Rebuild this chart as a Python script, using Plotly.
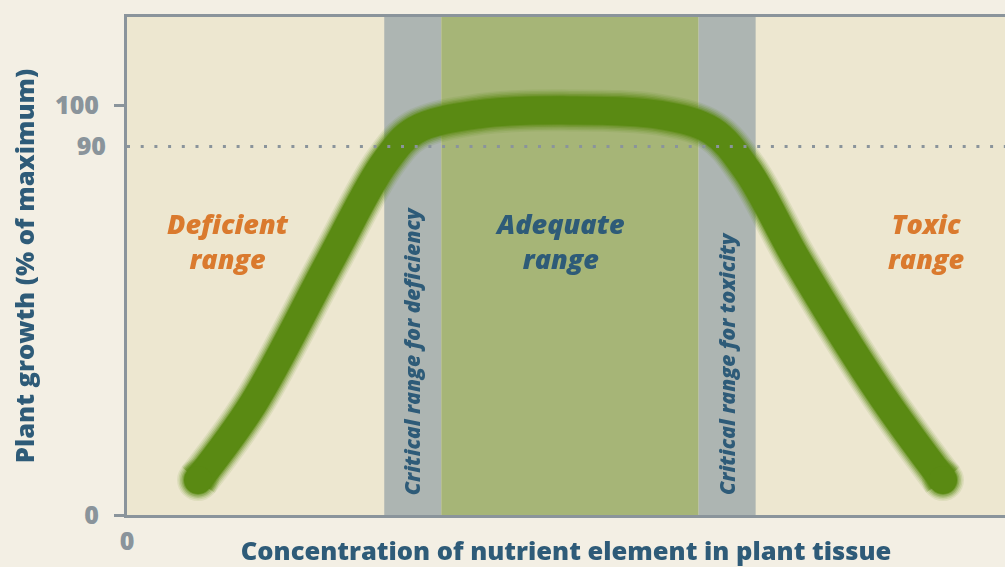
import plotly.graph_objects as go

# ---- data ----
conc = [8.09, 14.35, 23.12, 29.38, 32.8, 40.21, 50.46, 60.71, 66.63, 70.62, 76.31, 85.76, 92.94]
growth = [8.55, 27.11, 62.03, 86.2, 93.9, 97.9, 98.8, 97.7, 93.8, 84.2, 62.3, 29.8, 8.55]

critical_def = [29.3, 35.8]
adequate = [35.8, 65.1]
critical_tox = [65.1, 71.6]
threshold = 90

y_ticks = [0, 100]
y_tick_text = ["0", "100"]
y2_ticks = [90]
y2_tick_text = ["90"]
x_ticks = [0]
x_tick_text = ["0"]

range_labels = ["Deficient<br>range", "Adequate<br>range", "Toxic<br>range"]
range_label_x = [11.5, 49.3, 91.0]
range_label_y = 66.8

# ---- style ----
PAPER = "#f3efe4"
PLOT = "#ede7d0"
AXIS = "#8a949b"
GRAYBAND = "#adb5b2"
GREENBAND = "#a6b577"
CURVE = "#5a8a13"
ORANGE = "#da7a2e"
BLUE = "#2e5b78"
FONT = "Open Sans"
W = 800

fig = go.Figure()

# blurred thick curve: soft layers then core
for w, op in [(42, 0.10), (39, 0.15), (36, 0.22), (33, 0.32), (30, 0.5), (28, 1.0)]:
    fig.add_trace(go.Scatter(
        x=conc, y=growth, mode="lines",
        line=dict(color=CURVE, width=w, shape="spline", smoothing=1.0),
        opacity=op, hoverinfo="skip", showlegend=False,
    ))
    fig.add_trace(go.Scatter(
        x=[conc[0], conc[-1]], y=[growth[0], growth[-1]], mode="markers",
        marker=dict(size=w, color=CURVE, line=dict(width=0)),
        opacity=op, hoverinfo="skip", showlegend=False,
    ))

# bands
for band, col in [(critical_def, GRAYBAND), (adequate, GREENBAND), (critical_tox, GRAYBAND)]:
    fig.add_shape(type="rect", xref="x", yref="paper", x0=band[0], x1=band[1], y0=0, y1=1,
                  fillcolor=col, line=dict(width=0), layer="below")

# 90% dotted threshold
fig.add_shape(type="line", xref="paper", yref="y", x0=0, x1=1, y0=threshold, y1=threshold,
              line=dict(color=AXIS, width=3, dash="3px,10.7px"), layer="above")

# range labels
for txt, xv, col in zip(range_labels, range_label_x, [ORANGE, BLUE, ORANGE]):
    fig.add_annotation(x=xv, y=range_label_y, xref="x", yref="y", text=txt, showarrow=False,
                       font=dict(family=FONT, size=27, color=col, weight=W, style="italic"),
                       xanchor="center", yanchor="middle")

# vertical critical labels
for txt, band in [("Critical range for deficiency", critical_def), ("Critical range for toxicity", critical_tox)]:
    fig.add_annotation(x=(band[0] + band[1]) / 2, y=4.3, xref="x", yref="y", text=txt, showarrow=False,
                       textangle=-90, xanchor="center", yanchor="bottom",
                       font=dict(family=FONT, size=21, color=BLUE, weight=W, style="italic"))

fig.update_layout(
    width=1005, height=567,
    margin=dict(l=127, r=0, t=17, b=52),
    paper_bgcolor=PAPER, plot_bgcolor=PLOT,
    showlegend=False,
    xaxis=dict(range=[0, 100], tickvals=x_ticks, ticktext=x_tick_text, ticks="", automargin=False,
               showgrid=False, zeroline=False, showline=True, linecolor=AXIS, linewidth=3, mirror=True,
               tickfont=dict(family=FONT, size=25, color=AXIS, weight=W), ticklabelstandoff=2,
               title=dict(text="Concentration of nutrient element in plant tissue", standoff=17,
                          font=dict(family=FONT, size=25.5, color=BLUE, weight=W))),
    yaxis=dict(range=[0, 121.6], tickvals=y_ticks, ticktext=y_tick_text, ticks="outside",
               ticklen=10, tickwidth=3, tickcolor=AXIS, automargin=False,
               showgrid=False, zeroline=False, showline=True, linecolor=AXIS, linewidth=3,
               tickfont=dict(family=FONT, size=25, color=AXIS, weight=W), ticklabelstandoff=10,
               title=dict(text="Plant growth (% of maximum)", standoff=14,
                          font=dict(family=FONT, size=25.5, color=BLUE, weight=W))),
    yaxis2=dict(range=[0, 121.6], overlaying="y", side="left", anchor="x", tickvals=y2_ticks,
                ticktext=y2_tick_text, ticks="", showgrid=False, zeroline=False, showline=False,
                automargin=False,
                tickfont=dict(family=FONT, size=25, color=AXIS, weight=W), ticklabelstandoff=20),
)

# invisible trace to activate yaxis2
fig.add_trace(go.Scatter(x=[conc[0]], y=[growth[0]], yaxis="y2", mode="markers",
                         marker=dict(opacity=0), hoverinfo="skip", showlegend=False))

fig.write_html("out.html", config={"displayModeBar": False},
               post_script="document.body.style.margin='0px';document.body.style.overflow='hidden';")
